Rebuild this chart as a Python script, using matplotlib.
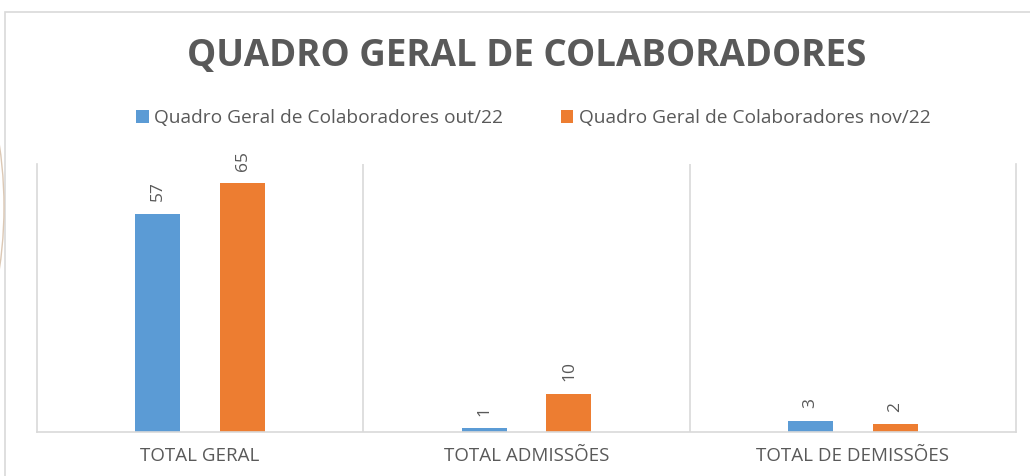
import matplotlib.pyplot as plt
import numpy as np
from matplotlib.patches import Rectangle, Circle
from matplotlib.transforms import IdentityTransform

categorias = ["TOTAL GERAL", "TOTAL ADMISSÕES", "TOTAL DE DEMISSÕES"]
serie_out = [57, 1, 3]
serie_nov = [65, 10, 2]
nomes = ["Quadro Geral de Colaboradores out/22", "Quadro Geral de Colaboradores nov/22"]
cores = ["#5B9BD5", "#ED7D31"]

cinza = "#595959"
plt.rcParams['font.family'] = ['Open Sans', 'DejaVu Sans']

fig = plt.figure(figsize=(10.3, 4.76), dpi=100)

# moldura clara do gráfico
fig.patches.append(Rectangle((5 / 1030, -0.2), 1.2, 1.2 - 12 / 476,
                             transform=fig.transFigure, fill=False,
                             edgecolor="#d9d9d9", linewidth=1.2))
# arco de fundo à esquerda
fig.patches.append(Circle((-418, 476 - 207), 422, transform=IdentityTransform(),
                          fill=False, edgecolor="#dcc8b4", linewidth=1.0))

ax = fig.add_axes([37 / 1030, 44 / 476, 979 / 1030, 268 / 476])
x = np.arange(len(categorias))
larg = 0.138
off = 0.13
b1 = ax.bar(x - off, serie_out, larg, color=cores[0], label=nomes[0])
b2 = ax.bar(x + off, serie_nov, larg, color=cores[1], label=nomes[1])

for barras in (b1, b2):
    for b in barras:
        ax.annotate(f"{int(b.get_height())}", (b.get_x() + b.get_width() / 2, b.get_height()),
                    xytext=(0, 9), textcoords="offset points", rotation=90,
                    ha="center", va="bottom", fontsize=12.5, color=cinza)

ax.set_xlim(-0.5, 2.5)
ax.set_ylim(0, 70)
ax.set_yticks([])
ax.set_xticks(x)
ax.set_xticklabels(categorias, fontsize=13.5, color=cinza)
ax.tick_params(axis="x", length=0, pad=11)
ax.spines["top"].set_visible(False)
for s in ["left", "right", "bottom"]:
    ax.spines[s].set_color("#d9d9d9")
    ax.spines[s].set_linewidth(1.2)
for sep in [0.5, 1.5]:
    ax.axvline(sep, color="#d9d9d9", linewidth=1.2)

fig.text(0.511, 1 - 56 / 476, "QUADRO GERAL DE COLABORADORES", ha="center", va="center",
         fontsize=26.5, fontweight="bold", color=cinza)

fig.legend(handles=[b1, b2], loc="center", bbox_to_anchor=(0.518, 1 - 118 / 476), ncol=2,
           frameon=False, fontsize=13.8, handlelength=0.65, handleheight=0.7,
           handletextpad=0.3, columnspacing=3.0, labelcolor=cinza)

fig.savefig("out.png", dpi=100, facecolor="white")
